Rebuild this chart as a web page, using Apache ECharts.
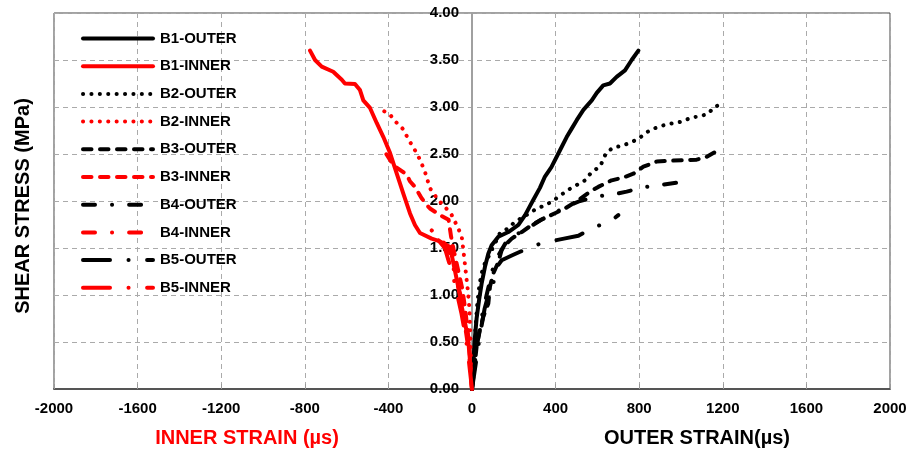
<!DOCTYPE html>
<html>
<head>
<meta charset="utf-8">
<script src="https://cdn.jsdelivr.net/npm/echarts@6/dist/echarts.min.js"></script>
<style>html,body{margin:0;padding:0;background:#fff;}#c{width:911px;height:451px;}</style>
</head>
<body>
<div id="c"></div>
<script>
// ---- data (strain in µs, shear stress in MPa) ----
var seriesNames = ['B1-OUTER','B1-INNER','B2-OUTER','B2-INNER','B3-OUTER','B3-INNER','B4-OUTER','B4-INNER','B5-OUTER','B5-INNER'];
var xTicks = [-2000,-1600,-1200,-800,-400,0,400,800,1200,1600,2000];
var yTicks = [0,0.5,1,1.5,2,2.5,3,3.5,4];

var B1_OUTER = [[0,0],[5,0.2],[12,0.5],[22,0.75],[34,0.95],[46,1.12],[62,1.30],[78,1.44],[94,1.53],[126,1.62],[174,1.67],[222,1.745],[254,1.85],[293,2.01],[325,2.14],[349,2.26],[380,2.36],[421,2.54],[453,2.68],[477,2.77],[501,2.86],[533,2.97],[573,3.07],[597,3.15],[628,3.23],[660,3.25],[692,3.32],[732,3.39],[764,3.50],[796,3.60]];
var B1_INNER = [[0,0],[-3,0.12],[-10,0.31],[-18,0.52],[-33,0.70],[-49,0.875],[-66,1.09],[-89,1.34],[-105,1.51],[-153,1.57],[-193,1.60],[-249,1.66],[-273,1.745],[-297,1.87],[-329,2.08],[-360,2.29],[-392,2.51],[-424,2.68],[-456,2.83],[-488,2.99],[-520,3.07],[-536,3.18],[-560,3.245],[-608,3.25],[-623,3.29],[-664,3.375],[-719,3.43],[-751,3.50],[-775,3.60]];
var B2_OUTER = [[0,0],[8,0.3],[15,0.6],[25,0.9],[35,1.1],[46,1.23],[62,1.34],[70,1.37],[86,1.44],[118,1.585],[134,1.66],[174,1.71],[206,1.78],[246,1.83],[310,1.92],[357,1.96],[405,2.03],[461,2.12],[517,2.19],[541,2.22],[573,2.31],[612,2.365],[628,2.44],[641,2.51],[676,2.57],[716,2.585],[756,2.62],[796,2.66],[823,2.71],[856,2.76],[896,2.79],[936,2.82],[976,2.83],[1011,2.85],[1051,2.89],[1091,2.90],[1131,2.93],[1158,3.00],[1195,3.03]];
var B2_INNER = [[0,0],[-5,0.25],[-8,0.55],[-12,0.85],[-20,1.05],[-30,1.25],[-40,1.45],[-49,1.62],[-66,1.71],[-97,1.85],[-130,1.94],[-161,2.01],[-201,2.135],[-225,2.31],[-249,2.44],[-273,2.54],[-297,2.63],[-332,2.77],[-364,2.84],[-389,2.91],[-424,2.96]];
var B3_OUTER = [[0,0],[10,0.2],[22,0.45],[38,0.63],[54,0.77],[78,0.91],[86,1.09],[102,1.23],[126,1.35],[142,1.48],[158,1.53],[190,1.60],[238,1.67],[286,1.745],[349,1.82],[397,1.87],[445,1.92],[509,2.01],[565,2.10],[604,2.15],[668,2.22],[724,2.25],[772,2.29],[820,2.365],[884,2.42],[963,2.43],[1075,2.44],[1123,2.47],[1163,2.52]];
var B3_INNER = [[0,0],[-5,0.2],[-15,0.5],[-30,0.8],[-45,1.05],[-65,1.25],[-85,1.45],[-100,1.62],[-112,1.80],[-153,1.85],[-201,1.92],[-217,1.96],[-241,2.03],[-273,2.15],[-297,2.21],[-312,2.28],[-376,2.38],[-416,2.52]];
var B4_OUTER = [[0,0],[15,0.3],[30,0.55],[50,0.8],[70,1.0],[86,1.15],[102,1.30],[126,1.42],[160,1.55],[200,1.63],[260,1.70],[330,1.80],[400,1.88],[461,1.95],[517,2.00],[604,2.05],[676,2.07],[740,2.10],[820,2.145],[900,2.17],[980,2.195],[1035,2.195]];
var B4_INNER = [[0,0],[-15,0.4],[-35,0.7],[-55,1.0],[-80,1.2],[-100,1.40],[-120,1.52],[-160,1.62],[-204,1.71],[-249,1.78]];
var B5_OUTER = [[0,0],[20,0.3],[40,0.6],[60,0.85],[78,1.0],[102,1.11],[110,1.27],[142,1.37],[190,1.42],[230,1.46],[293,1.525],[373,1.57],[440,1.60],[509,1.63],[573,1.71],[644,1.77],[672,1.80],[700,1.85]];
var B5_INNER = [[0,0],[-15,0.3],[-30,0.55],[-50,0.8],[-70,1.0],[-90,1.2],[-110,1.35],[-130,1.50],[-160,1.58]];

var seriesData = [B1_OUTER,B1_INNER,B2_OUTER,B2_INNER,B3_OUTER,B3_INNER,B4_OUTER,B4_INNER,B5_OUTER,B5_INNER];
var dashTypes = ['solid','solid',[0.1,8.3],[0.1,8.3],[8.5,8.5],[8.5,8.5],[12,17,0.1,17],[12,17,0.1,17],[27,18.5,0.1,18.5],[27,18.5,0.1,18.5]];
var colors = ['#000000','#FF0000'];

var FONT = "'Liberation Sans', Arial, sans-serif";

var series = seriesData.map(function(d, i){
  return {
    name: seriesNames[i],
    type: 'line',
    data: d,
    symbol: 'none',
    smooth: false,
    animation: false,
    lineStyle: { color: colors[i % 2], width: 4, type: dashTypes[i], cap: 'round', join: 'round' },
    itemStyle: { color: colors[i % 2] }
  };
});

var chart = echarts.init(document.getElementById('c'), null, {renderer: 'canvas'});
chart.setOption({
  animation: false,
  backgroundColor: '#fff',
  grid: { left: 54, right: 21, top: 13, bottom: 62, show: true, borderColor: '#444', borderWidth: 1, containLabel: false },
  legend: {
    orient: 'vertical', left: 81, top: 31, padding: 0,
    itemWidth: 70, itemHeight: 14, itemGap: 12.7,
    lineStyle: { width: 4 },
    itemStyle: { opacity: 0 },
    textStyle: { fontFamily: FONT, fontWeight: 'bold', fontSize: 15, color: '#000', padding: [0,0,0,2] },
    data: seriesNames
  },
  xAxis: {
    type: 'value', min: xTicks[0], max: xTicks[xTicks.length-1], interval: 400,
    axisLine: { onZero: false, lineStyle: { color: '#555', width: 2 } },
    axisTick: { show: true, inside: true, length: 5, lineStyle: { color: '#999' } },
    axisLabel: { fontFamily: FONT, fontWeight: 'bold', fontSize: 15, color: '#000', margin: 12,
      formatter: function(v){ return String(v); } },
    splitLine: { show: true, lineStyle: { color: '#aaa', type: [5,4], width: 1 } }
  },
  yAxis: {
    type: 'value', min: yTicks[0], max: yTicks[yTicks.length-1], interval: 0.5,
    position: 'left', offset: -418,
    axisLine: { show: true, onZero: false, lineStyle: { color: '#a0a0a0', width: 2 } },
    axisTick: { show: false },
    axisLabel: { fontFamily: FONT, fontWeight: 'bold', fontSize: 15, color: '#000', margin: 13,
      formatter: function(v){ return v.toFixed(2); } },
    splitLine: { show: true, lineStyle: { color: '#aaa', type: [5,4], width: 1 } }
  },
  graphic: [
    { type: 'text', x: 23, y: 206, rotation: Math.PI/2,
      style: { text: 'SHEAR STRESS (MPa)', font: 'bold 20px ' + FONT, fill: '#000', textAlign: 'center', textVerticalAlign: 'middle' } },
    { type: 'text', x: 247, y: 438,
      style: { text: 'INNER STRAIN (µs)', font: 'bold 20px ' + FONT, fill: '#FF0000', textAlign: 'center', textVerticalAlign: 'middle' } },
    { type: 'text', x: 697, y: 438,
      style: { text: 'OUTER STRAIN(µs)', font: 'bold 20px ' + FONT, fill: '#000', textAlign: 'center', textVerticalAlign: 'middle' } }
  ],
  series: series
});
</script>
</body>
</html>
